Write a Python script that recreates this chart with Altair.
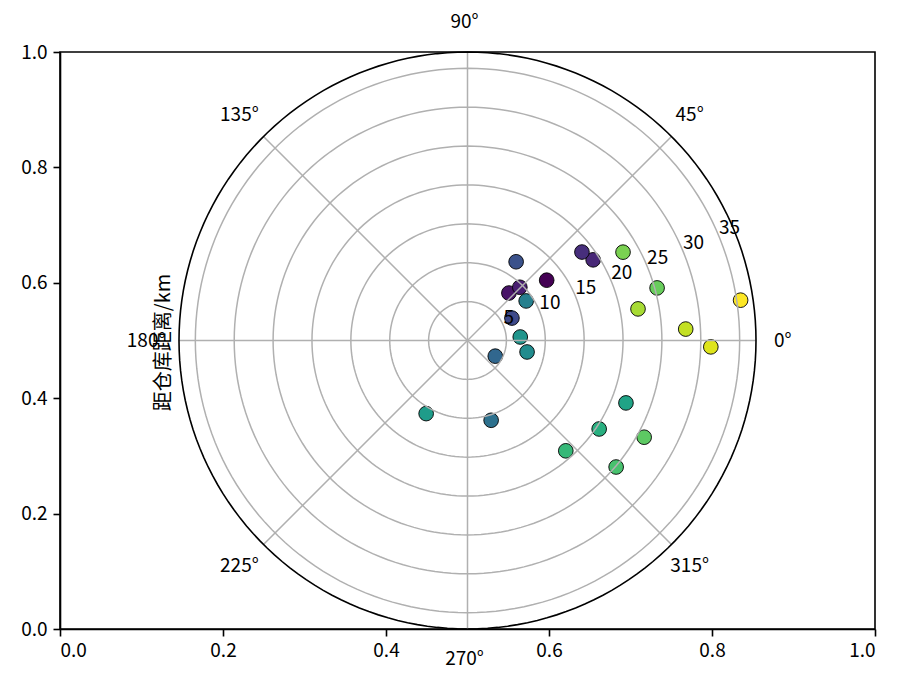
import altair as alt
import numpy as np
import pandas as pd

# Sites around the warehouse: bearing (deg), distance (km), colour value
bearing_deg = [37.3, 48.9, 45.5, 32.7, 37.7, 26.8, 58.3, 330.6, 286.5, 34.0, 349.1, 3.8,
               240.5, 338.5, 326.1, 311.7, 319.6, 331.3, 15.5, 29.6, 10.5, 3.0, 358.5, 8.4]
distance_km = [12.8, 8.1, 9.6, 19.2, 18.6, 6.4, 11.9, 4.1, 10.7, 9.1, 7.8, 6.8,
               10.8, 21.9, 20.4, 19.0, 25.1, 25.9, 25.3, 23.0, 22.3, 28.1, 31.3, 35.5]
shade = [0.00, 0.05, 0.08, 0.11, 0.13, 0.22, 0.25, 0.33, 0.37, 0.43, 0.48, 0.52,
         0.55, 0.58, 0.63, 0.67, 0.71, 0.75, 0.77, 0.80, 0.87, 0.91, 0.95, 1.00]

ring_ticks = [5, 10, 15, 20, 25, 30, 35]
spoke_angles = [0, 45, 90, 135, 180, 225, 270, 315]
RLABEL_ANGLE = 22.5

# plot-area geometry: the polar disc sits centred in a 0..1 cartesian frame
W, H = 815, 577
RMAX = 37.1
R_PX = H / 2
KX = R_PX / W / RMAX
KY = 0.5 / RMAX
THETA_LABEL_R = 40.94

FONT = "Noto Sans CJK SC"
FS = 19
GRID = "#b0b0b0"


def to_xy(chart, ang="a", rad="r"):
    return chart.transform_calculate(
        x=f"0.5 + datum.{rad} * cos(datum.{ang} * PI / 180) * {KX}",
        y=f"0.5 + datum.{rad} * sin(datum.{ang} * PI / 180) * {KY}",
    )


xs = alt.Scale(domain=[0, 1], nice=False, zero=False)
ys = alt.Scale(domain=[0, 1], nice=False, zero=False)
x_axis = alt.Axis(values=[0, 0.2, 0.4, 0.6, 0.8, 1.0], format=".1f", grid=False,
                  tickSize=7, tickWidth=1.6, tickColor="black", domainColor="black",
                  domainWidth=1.6, labelFontSize=FS, labelPadding=5, labelColor="black",
                  title=None)
y_axis = alt.Axis(values=[0, 0.2, 0.4, 0.6, 0.8, 1.0], format=".1f", grid=False,
                  tickSize=7, tickWidth=1.6, tickColor="black", domainColor="black",
                  domainWidth=1.6, labelFontSize=FS, labelPadding=6, labelColor="black",
                  title="距仓库距离/km", titleX=103, titleY=290, titleAngle=270,
                  titleAlign="center", titleBaseline="middle", titleFontSize=FS + 1,
                  titleFontWeight="normal", titleColor="black", titleFont=FONT)

X = alt.X("x:Q", scale=xs, axis=x_axis)
Y = alt.Y("y:Q", scale=ys, axis=y_axis)

sites = pd.DataFrame({"a": bearing_deg, "r": distance_km, "c": shade})
points = to_xy(alt.Chart(sites)).mark_point(
    shape="circle", filled=True, size=215, stroke="black", strokeWidth=0.9, opacity=1
).encode(
    x=X, y=Y,
    color=alt.Color("c:Q", scale=alt.Scale(scheme="viridis", domain=[0, 1]), legend=None),
)

# concentric range rings
ring_angles = np.arange(0, 361, 2)
ring_rows = pd.DataFrame([(rr, aa) for rr in ring_ticks for aa in ring_angles], columns=["ring", "a"])
ring_rows["r"] = ring_rows["ring"].astype(float)
rings = to_xy(alt.Chart(ring_rows)).mark_line(color=GRID, strokeWidth=1.5).encode(
    x=X, y=Y, detail="ring:N", order="a:Q"
)

# outer boundary of the polar frame
edge_rows = pd.DataFrame({"a": ring_angles, "r": RMAX})
edge = to_xy(alt.Chart(edge_rows)).mark_line(color="black", strokeWidth=1.6).encode(
    x=X, y=Y, order="a:Q"
)

# bearing spokes every 45 degrees
spokes_df = pd.DataFrame({"a": spoke_angles, "r": RMAX})
spokes = to_xy(alt.Chart(spokes_df)).transform_calculate(x0="0.5", y0="0.5").mark_rule(
    color=GRID, strokeWidth=1.5
).encode(x=X, y=Y, x2="x0:Q", y2="y0:Q")

# bearing labels around the rim
theta_lab = pd.DataFrame({"a": spoke_angles, "r": THETA_LABEL_R,
                          "t": [f"{a}°" for a in spoke_angles]})
theta_text = to_xy(alt.Chart(theta_lab)).mark_text(
    font=FONT, fontSize=FS, color="black", align="center", baseline="middle", dx=-3
).encode(x=X, y=Y, text="t:N")

# distance labels along the 22.5 degree ray
r_lab = pd.DataFrame({"a": RLABEL_ANGLE, "r": ring_ticks, "t": [str(v) for v in ring_ticks]})
r_text = to_xy(alt.Chart(r_lab)).mark_text(
    font=FONT, fontSize=FS, color="black", align="left", baseline="bottom", dy=2
).encode(x=X, y=Y, text="t:N")

chart = alt.layer(points, rings, spokes, edge, theta_text, r_text).properties(
    width=W, height=H,
    autosize=alt.AutoSizeParams(type="none"),
    padding={"left": 60, "top": 52, "right": 30, "bottom": 54},
).configure(font=FONT).configure_view(stroke="black", strokeWidth=1.6)

chart.save("out.html", embed_options={"renderer": "svg", "actions": False})
